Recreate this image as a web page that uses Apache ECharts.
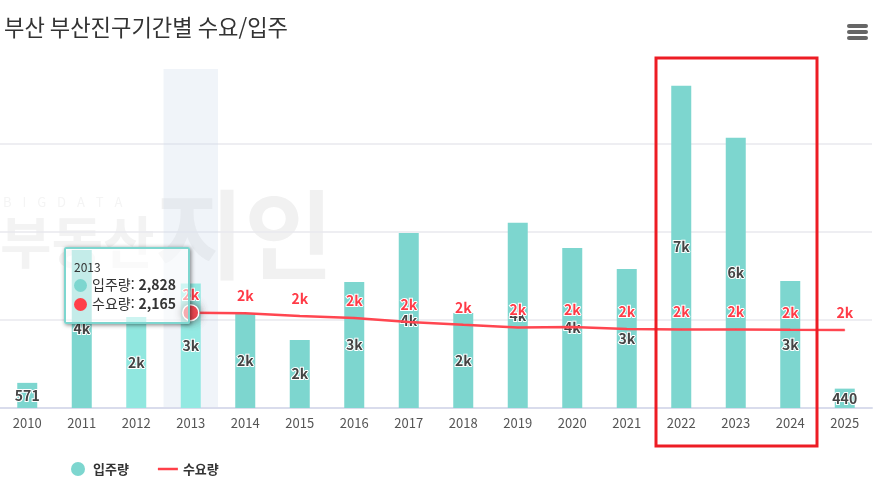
<!DOCTYPE html>
<html lang="ko">
<head>
<meta charset="utf-8">
<title>부산 부산진구기간별 수요/입주</title>
<script src="https://cdn.jsdelivr.net/npm/echarts@6/dist/echarts.min.js"></script>
<style>
  html, body { margin: 0; padding: 0; background: #fff; }
  #box { width: 882px; height: 487px; }
</style>
</head>
<body>
<div id="box"></div>
<script>
var FONT = '"Noto Sans CJK KR", "Noto Sans", sans-serif';

// 값은 그림에서 읽은 추정치
var years = ['2010', '2011', '2012', '2013', '2014', '2015', '2016', '2017', '2018', '2019', '2020', '2021', '2022', '2023', '2024', '2025'];
var supply = [571, 3590, 2068, 2828, 2136, 1545, 2864, 3977, 2160, 4205, 3636, 3159, 7318, 6136, 2886, 440];
var demand = [null, null, null, 2165, 2150, 2090, 2045, 1955, 1890, 1830, 1840, 1795, 1785, 1785, 1775, 1770];
var lightYears = ['2012', '2013'];
var hoverYear = '2013';

function shortLabel(p) {
    var v = typeof p.value === 'object' ? p.value.value : p.value;
    return v < 1000 ? String(v) : Math.round(v / 1000) + 'k';
}

var supplyData = supply.map(function (v, i) {
    if (lightYears.indexOf(years[i]) >= 0) {
        return { value: v, itemStyle: { color: '#90e7df' } };
    }
    return v;
});

var demandData = demand.map(function (v, i) {
    if (years[i] === hoverYear) {
        return {
            value: v,
            symbolSize: 16,
            itemStyle: { color: '#ff4049', borderColor: '#fff', borderWidth: 1.5, shadowColor: 'rgba(80,80,80,.9)', shadowBlur: 8 },
            label: { distance: 2 }
        };
    }
    return v;
});

var myChart = echarts.init(document.getElementById('box'));

var option = {
    animation: false,
    textStyle: { fontFamily: FONT },
    title: {
        text: '부산 부산진구기간별 수요/입주',
        left: 4, top: 16, padding: 0,
        textStyle: { fontFamily: FONT, fontSize: 22.2, fontWeight: 'normal', color: '#333' }
    },
    grid: { left: 0, width: 872, top: 69, height: 339 },
    legend: {
        left: 66, top: 457,
        itemWidth: 20, itemHeight: 14, itemGap: 29,
        textStyle: { fontFamily: FONT, fontSize: 13, fontWeight: 'bold', color: '#333' },
        data: [
            { name: '입주량', icon: 'circle' },
            { name: '수요량', icon: 'path://M0 0H20V2.5H0Z' }
        ]
    },
    tooltip: {
        trigger: 'axis',
        alwaysShowContent: true,
        transitionDuration: 0,
        axisPointer: { type: 'shadow', triggerEmphasis: false, z: 0, shadowStyle: { color: 'rgba(205,217,236,.3)', opacity: 1 } },
        position: [64, 247],
        backgroundColor: 'rgba(255,255,255,.55)',
        borderColor: '#7dd6cf',
        borderWidth: 2,
        padding: [10, 8, 9, 8],
        extraCssText: 'border-radius:2px;box-shadow:1px 1px 4px rgba(0,0,0,.5);width:106px;box-sizing:content-box;',
        formatter: function (ps) {
            var s = '<div style="font-size:12px;line-height:16px;color:#333;">' + ps[0].axisValue + '</div>';
            ps.forEach(function (p) {
                var v = typeof p.value === 'object' ? p.value.value : p.value;
                s += '<div style="font-size:14px;line-height:19px;color:#333;white-space:nowrap;">' +
                    '<span style="display:inline-block;width:13px;height:13px;border-radius:50%;vertical-align:-2px;margin-right:5px;background:' +
                    (p.seriesName === '입주량' ? '#7dd6cf' : '#ff4049') + ';"></span>' +
                    p.seriesName + ': <b>' + v.toLocaleString('en-US') + '</b></div>';
            });
            return s;
        }
    },
    xAxis: {
        type: 'category',
        data: years,
        axisLine: { lineStyle: { color: '#d9dcec', width: 2 } },
        axisTick: { show: false },
        axisLabel: { fontFamily: FONT, fontSize: 13, color: '#555', margin: 9 }
    },
    yAxis: {
        type: 'value',
        min: 0, max: 7700, interval: 2000,
        axisLabel: { show: false },
        axisLine: { show: false },
        axisTick: { show: false },
        splitLine: { show: true, showMinLine: false, showMaxLine: false, lineStyle: { color: '#e9e9ee', width: 1.5 } }
    },
    series: [
        {
            name: '입주량',
            type: 'bar',
            barWidth: 20,
            z: 60,
            data: supplyData,
            itemStyle: { color: '#7dd6cf' },
            emphasis: { itemStyle: { color: '#93e9e2' } },
            label: {
                show: true, position: 'inside', formatter: shortLabel,
                fontFamily: FONT, fontSize: 14, fontWeight: 'bold', color: '#444',
                textBorderColor: '#fff', textBorderWidth: 2
            }
        },
        {
            name: '수요량',
            type: 'line',
            z: 61,
            data: demandData,
            symbol: 'circle',
            symbolSize: 1,
            showAllSymbol: true,
            connectNulls: false,
            itemStyle: { color: '#ff4049' },
            lineStyle: { color: '#ff4049', width: 2.5 },
            label: {
                show: true, position: 'top', distance: 10, formatter: shortLabel,
                fontFamily: FONT, fontSize: 14, fontWeight: 'bold', color: '#ff3b47',
                textBorderColor: '#fff', textBorderWidth: 2
            },
            emphasis: { scale: false }
        }
    ],
    graphic: [
        // 워터마크
        { type: 'text', z: -1, silent: true, left: 3, top: 196, style: { text: 'B   I   G   D   A   T   A', fontFamily: FONT, fontSize: 13, fill: '#f4f4f4' } },
        { type: 'text', z: -1, silent: true, left: 0, top: 214, style: { text: '부동산', fontFamily: FONT, fontSize: 56, fontWeight: 'bold', fill: '#f3f3f3' } },
        { type: 'text', z: -1, silent: true, left: 155, top: 186, style: { text: '지인', fontFamily: FONT, fontSize: 97, fontWeight: 'bold', fill: '#f1f1f1' } },
        // 메뉴 아이콘
        { type: 'rect', shape: { x: 847, y: 24, width: 21, height: 4, r: 2 }, style: { fill: '#666' } },
        { type: 'rect', shape: { x: 847, y: 30, width: 21, height: 4, r: 2 }, style: { fill: '#666' } },
        { type: 'rect', shape: { x: 847, y: 36, width: 21, height: 4, r: 2 }, style: { fill: '#666' } },
        // 빨간 강조 상자
        { type: 'rect', z: 100, silent: true, shape: { x: 656, y: 58, width: 161, height: 388 }, style: { fill: 'none', stroke: '#ed1c24', lineWidth: 3 } }
    ]
};

myChart.setOption(option, true);
myChart.dispatchAction({ type: 'showTip', seriesIndex: 0, dataIndex: years.indexOf(hoverYear) });
</script>
</body>
</html>
